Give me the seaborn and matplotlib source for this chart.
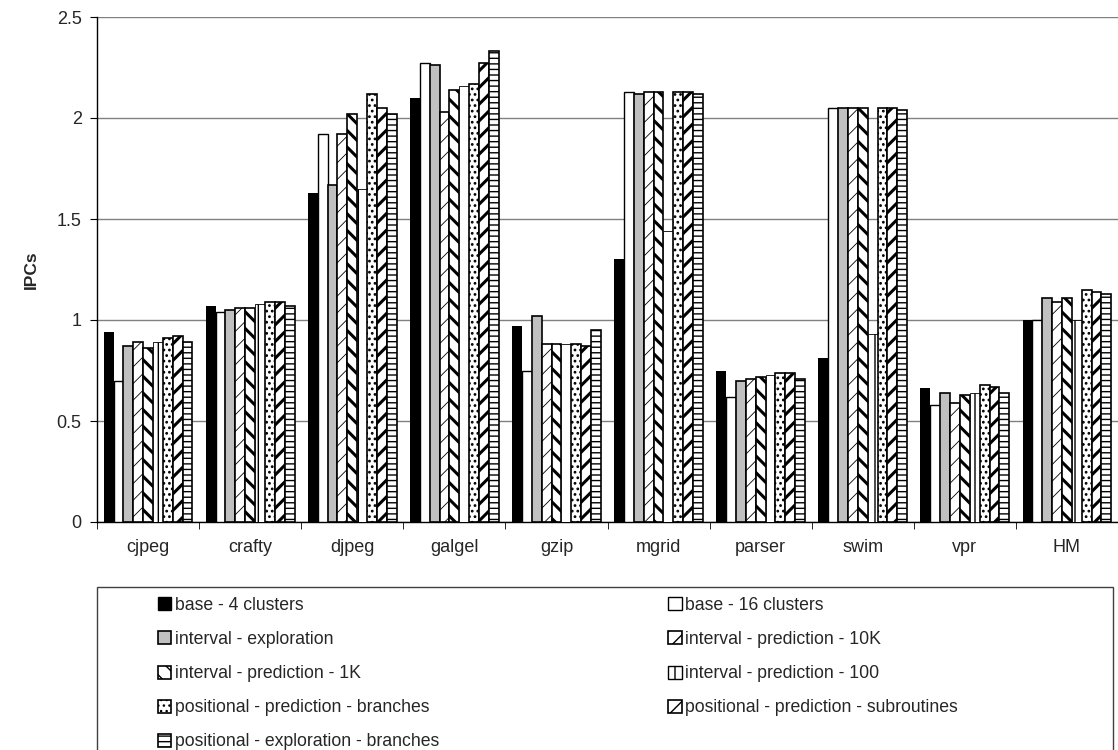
import numpy as np
import pandas as pd
import matplotlib
matplotlib.use("Agg")
import matplotlib.pyplot as plt
import seaborn as sns
from matplotlib.patches import Rectangle, Patch

benchmarks = ["cjpeg", "crafty", "djpeg", "galgel", "gzip", "mgrid", "parser", "swim", "vpr", "HM"]
series_names = [
    "base - 4 clusters",
    "base - 16 clusters",
    "interval - exploration",
    "interval - prediction - 10K",
    "interval - prediction - 1K",
    "interval - prediction - 100",
    "positional - prediction - branches",
    "positional - prediction - subroutines",
    "positional - exploration - branches",
]
base_4 = [0.94, 1.07, 1.63, 2.10, 0.97, 1.30, 0.75, 0.81, 0.665, 1.00]
base_16 = [0.70, 1.04, 1.92, 2.27, 0.75, 2.13, 0.62, 2.05, 0.58, 1.00]
int_expl = [0.87, 1.05, 1.67, 2.26, 1.02, 2.12, 0.70, 2.05, 0.64, 1.11]
int_10k = [0.89, 1.06, 1.92, 2.03, 0.88, 2.13, 0.71, 2.05, 0.59, 1.09]
int_1k = [0.86, 1.06, 2.02, 2.14, 0.88, 2.13, 0.72, 2.05, 0.63, 1.11]
int_100 = [0.89, 1.08, 1.65, 2.16, 0.88, 1.44, 0.73, 0.93, 0.64, 1.00]
pos_br = [0.91, 1.09, 2.12, 2.17, 0.88, 2.13, 0.74, 2.05, 0.68, 1.15]
pos_sub = [0.92, 1.09, 2.05, 2.27, 0.87, 2.13, 0.74, 2.05, 0.67, 1.14]
pos_expl = [0.89, 1.07, 2.02, 2.33, 0.95, 2.12, 0.71, 2.04, 0.64, 1.13]
y_ticks = [0, 0.5, 1, 1.5, 2, 2.5]
y_tick_labels = ["0", "0.5", "1", "1.5", "2", "2.5"]

all_series = [base_4, base_16, int_expl, int_10k, int_1k, int_100, pos_br, pos_sub, pos_expl]
rows = []
for name, vals in zip(series_names, all_series):
    for b, v in zip(benchmarks, vals):
        rows.append({"benchmark": b, "config": name, "IPC": v})
df = pd.DataFrame(rows)

# style per series: facecolor, edgecolor, hatch, hatch linewidth, edge lw
styles = [
    ("black", "black", "", 0.0, 0.0),
    ("white", "black", "", 0.0, 1.0),
    ("#c0c0c0", "black", "", 0.0, 1.2),
    ("white", "black", "//", 0.6, 1.2),
    ("white", "black", "\\\\", 2.2, 1.2),
    ("white", "black", "|", 1.0, 0.6),
    ("white", "black", "...", 1.2, 1.2),
    ("white", "black", "//", 2.2, 1.2),
    ("white", "black", "---", 1.0, 1.2),
]

sns.set_style("white")
plt.rcParams["font.family"] = ["Liberation Sans", "DejaVu Sans"]

fig = plt.figure(figsize=(11.18, 7.5), dpi=100)
ax = fig.add_axes([97 / 1118, 1 - 522 / 750, 1 - 97 / 1118, (522 - 17) / 750])

sns.barplot(data=df, x="benchmark", y="IPC", hue="config", hue_order=series_names,
            order=benchmarks, palette=["white"] * 9, width=0.87, errorbar=None,
            legend=False, ax=ax, zorder=3)

for cont, (fc, ec, hatch, hlw, elw) in zip(ax.containers, styles):
    for bar in cont:
        bar.set_facecolor(fc)
        bar.set_edgecolor(ec)
        bar.set_linewidth(elw)
        bar.set_hatch(hatch)
        if hasattr(bar, "set_hatch_linewidth") and hatch:
            bar.set_hatch_linewidth(hlw)

ax.set_ylim(0, 2.5)
ax.set_xlim(-0.5, len(benchmarks) - 0.5)
ax.set_yticks(y_ticks)
ax.set_yticklabels(y_tick_labels)
ax.yaxis.grid(True, color="#808080", linewidth=1.0, zorder=0)
ax.set_axisbelow(True)
ax.set_xlabel("")
ax.set_ylabel("IPCs", fontsize=12.5, fontweight="bold", labelpad=13)
ax.tick_params(axis="y", labelsize=13, length=5, direction="out", left=True, color="black", pad=6)
ax.tick_params(axis="x", labelsize=13, length=0, pad=12)
ax.set_xticks(np.arange(len(benchmarks) + 1) - 0.5, minor=True)
ax.tick_params(axis="x", which="minor", length=5, direction="out", bottom=True, color="black")
for side in ["top", "right"]:
    ax.spines[side].set_visible(False)
for side in ["left", "bottom"]:
    ax.spines[side].set_visible(True)
    ax.spines[side].set_color("black")
    ax.spines[side].set_linewidth(1.0)

# legend frame
frame = Rectangle((97 / 1118, -0.01), (1113 - 97) / 1118, 1 - 587 / 750 + 0.01,
                  transform=fig.transFigure, facecolor="white", edgecolor="#404040",
                  linewidth=1.0, clip_on=False)
fig.patches.append(frame)

handles = []
for name, (fc, ec, hatch, hlw, elw) in zip(series_names, styles):
    p = Patch(facecolor=fc, edgecolor=ec, hatch=hatch, linewidth=max(elw, 1.0), label=name)
    if hasattr(p, "set_hatch_linewidth") and hatch:
        p.set_hatch_linewidth(min(hlw, 1.2))
    handles.append(p)
order = [0, 2, 4, 6, 8, 1, 3, 5, 7]
leg = fig.legend([handles[i] for i in order], [series_names[i] for i in order],
                 ncol=2, frameon=False, loc="upper left",
                 bbox_to_anchor=(158 / 1118, 1 - 597 / 750),
                 fontsize=12.7, handlelength=0.75, handleheight=0.75,
                 handletextpad=0.2, labelspacing=0.97, columnspacing=13.0,
                 borderpad=0, borderaxespad=0)

fig.savefig("out.png", dpi=100)
